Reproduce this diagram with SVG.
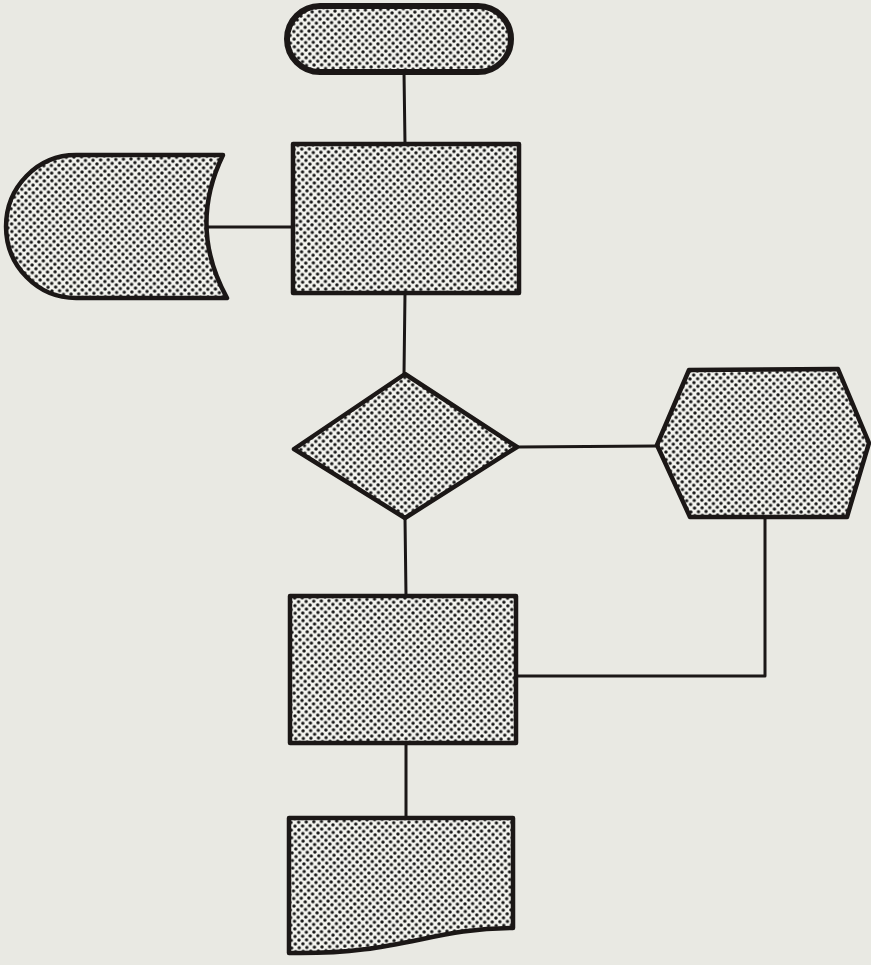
<svg xmlns="http://www.w3.org/2000/svg" width="871" height="965" viewBox="0 0 871 965">
  <defs>
    <!-- halftone dot screen used as the fill of every symbol -->
    <pattern id="dots" width="7.6" height="7.6" patternUnits="userSpaceOnUse" patternTransform="rotate(-2)">
      <rect width="7.6" height="7.6" fill="#f4f4ef"/>
      <circle cx="0" cy="0" r="1.7" fill="#161616"/>
      <circle cx="7.6" cy="0" r="1.7" fill="#161616"/>
      <circle cx="0" cy="7.6" r="1.7" fill="#161616"/>
      <circle cx="7.6" cy="7.6" r="1.7" fill="#161616"/>
      <circle cx="3.8" cy="3.8" r="1.7" fill="#161616"/>
    </pattern>
  </defs>
  <style>
    .sym { fill: url(#dots); stroke: #1b1716; stroke-width: 4.5; stroke-linejoin: round; }
    .thick { stroke-width: 6; }
    .wire { fill: none; stroke: #1b1716; stroke-width: 3; stroke-linejoin: round; stroke-linecap: round; }
  </style>

  <rect width="871" height="965" fill="#e9e9e3"/>

  <g id="connectors">
    <line class="wire" x1="404" y1="72" x2="405" y2="144"/>
    <line class="wire" x1="201" y1="227" x2="292" y2="227"/>
    <line class="wire" x1="405" y1="293" x2="404" y2="374"/>
    <line class="wire" x1="517" y1="447" x2="657" y2="446"/>
    <line class="wire" x1="405" y1="518" x2="406" y2="596"/>
    <polyline class="wire" points="765,517 765,676 517,676"/>
    <line class="wire" x1="406" y1="743" x2="406" y2="818"/>
  </g>

  <g id="terminal">
    <rect class="sym thick" x="287" y="6" width="224" height="66" rx="33" ry="33"/>
  </g>

  <g id="process-1">
    <rect class="sym" x="293" y="144" width="226" height="149"/>
  </g>

  <g id="stored-data">
    <path class="sym" d="M76,155 L223,155 Q188,227 227,298 L76,298 A70,71.5 0 0 1 76,155 Z"/>
  </g>

  <g id="decision">
    <polygon class="sym" points="405,374 517,447 405,518 294,449"/>
  </g>

  <g id="preparation">
    <polygon class="sym" points="689,370 838,369 869,443 847,517 690,517 657,445"/>
  </g>

  <g id="process-2">
    <rect class="sym" x="290" y="596" width="226" height="147"/>
  </g>

  <g id="document">
    <path class="sym" d="M289,818 L513,818 L513,928 C430,928 400,955 289,953 Z"/>
  </g>
</svg>
